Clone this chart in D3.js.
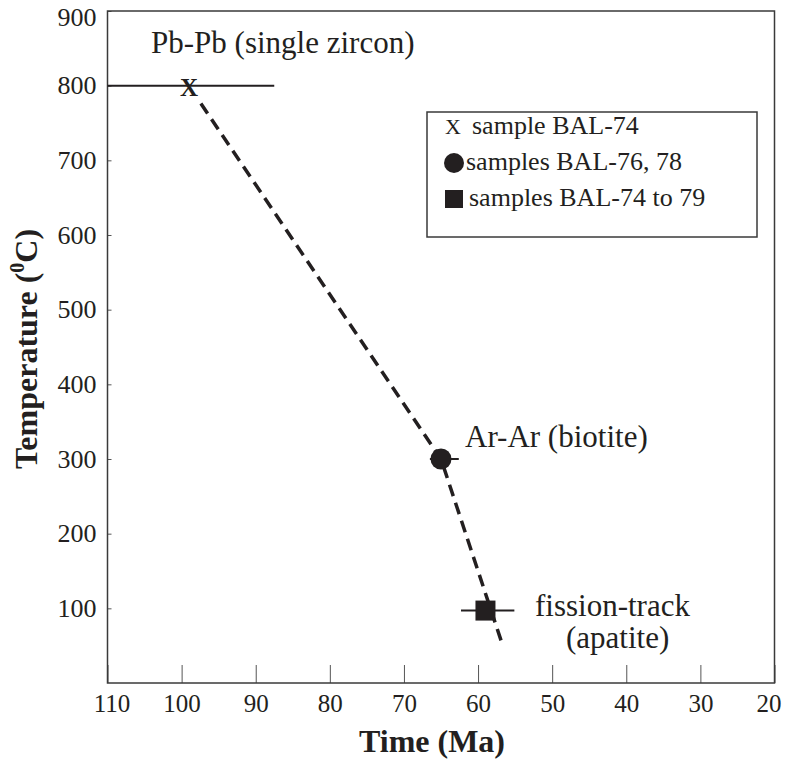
<!DOCTYPE html>
<html>
<head>
<meta charset="utf-8">
<script src="https://cdn.jsdelivr.net/npm/d3@7"></script>
<style>
body { margin: 0; background: #fff; }
svg text { font-family: "Liberation Serif", "Times New Roman", serif; fill: #231f20; }
</style>
</head>
<body>
<div id="chart"></div>
<script>
// values
const method_labels = [["Pb-Pb (single zircon)"], ["Ar-Ar (biotite)"], ["fission-track", "(apatite)"]];
const age_ma = [99, 65, 59];
const age_old = [110, 66.5, 62.3];
const age_young = [87.5, 62.6, 55.1];
const temp_c = [800, 300, 97];
const marker_types = ["x", "circle", "square"];

// dashed cooling path
const path_age = [97.4, 65, 56.8];
const path_temp = [776, 300, 54];

const legend_labels = ["sample BAL-74", "samples BAL-76, 78", "samples BAL-74 to 79"];

const x_ticks = [110, 100, 90, 80, 70, 60, 50, 40, 30, 20];
const y_ticks = [100, 200, 300, 400, 500, 600, 700, 800, 900];

let width = 788;
let height = 762;
let margin = { top: 11, right: 13.5, bottom: 79, left: 107.5 };
let ink = "#231f20";

let x = d3.scaleLinear().domain([110, 20]).range([margin.left, width - margin.right]);
let y = d3.scaleLinear().domain([0, 900]).range([height - margin.bottom, margin.top]);

let svg = d3.select("#chart")
	.append("svg")
	.attr("width", width)
	.attr("height", height);

// axes, ticks pointing inward
svg.append("g")
	.attr("transform", `translate(0,${y(0)})`)
	.call(d3.axisBottom(x).tickValues(x_ticks).tickSize(-18).tickPadding(11).tickFormat(d3.format("d")))
	.attr("font-size", 25)
	.call((g) => g.select(".domain").remove())
	.call((g) => g.selectAll(".tick line").attr("stroke", "#555"))
	// end labels sit a little inside the frame
	.call((g) => g.selectAll(".tick text").attr("dx", (d) => d == 110 ? 4 : d == 20 ? -6 : 0));

svg.append("g")
	.attr("transform", `translate(${x(110)},0)`)
	.call(d3.axisLeft(y).tickValues(y_ticks).tickSize(-4).tickPadding(11).tickFormat(d3.format("d")))
	.attr("font-size", 26)
	.call((g) => g.select(".domain").remove())
	.call((g) => g.selectAll(".tick line").attr("stroke", "#555"))
	.call((g) => g.selectAll(".tick text").filter((d) => d == 900).attr("dy", "0.55em"));

// frame
svg.append("rect")
	.attr("x", x(110))
	.attr("y", y(900))
	.attr("width", x(20) - x(110))
	.attr("height", y(0) - y(900))
	.attr("fill", "none")
	.attr("stroke", "#3a3a3a")
	.attr("stroke-width", 1.5);

// cooling path
let path_points = path_age.map((a, i) => [a, path_temp[i]]);
svg.append("path")
	.datum(path_points)
	.attr("d", d3.line().x((d) => x(d[0])).y((d) => y(d[1])))
	.attr("fill", "none")
	.attr("stroke", ink)
	.attr("stroke-width", 3.5)
	.attr("stroke-dasharray", "12,7");

// error bars
svg.selectAll(".err")
	.data(age_ma)
	.enter()
	.append("line")
	.attr("x1", (d, i) => x(age_old[i]))
	.attr("x2", (d, i) => x(age_young[i]))
	.attr("y1", (d, i) => y(temp_c[i]))
	.attr("y2", (d, i) => y(temp_c[i]))
	.attr("stroke", ink)
	.attr("stroke-width", 2);

// markers
age_ma.forEach((a, i) => {
	let cx = x(a), cy = y(temp_c[i]);
	if (marker_types[i] == "x") {
		svg.append("text")
			.attr("x", cx)
			.attr("y", cy + 10)
			.attr("text-anchor", "middle")
			.attr("font-weight", "bold")
			.attr("font-size", 25)
			.text("X");
	} else if (marker_types[i] == "circle") {
		svg.append("circle").attr("cx", cx).attr("cy", cy).attr("r", 10.5).attr("fill", ink);
	} else {
		svg.append("rect").attr("x", cx - 10).attr("y", cy - 10).attr("width", 20).attr("height", 20).attr("fill", ink);
	}
});

// method labels
let label_offsets = [[[-38, -32.5]], [[24, -12]], [[49.5, 5.5], [80.5, 37.5]]];
method_labels.forEach((lines, i) => {
	lines.forEach((t, j) => {
		svg.append("text")
			.attr("x", x(age_ma[i]) + label_offsets[i][j][0])
			.attr("y", y(temp_c[i]) + label_offsets[i][j][1])
			.attr("font-size", 31)
			.text(t);
	});
});

// legend
let legend = svg.append("g").attr("transform", "translate(427,112)");
legend.append("rect")
	.attr("width", 330)
	.attr("height", 125)
	.attr("fill", "#fff")
	.attr("stroke", "#3a3a3a")
	.attr("stroke-width", 1.5);

let row_y = [22, 58, 94];
legend.append("text").attr("x", 18).attr("y", row_y[0]).attr("font-size", 22).text("X");
legend.append("circle").attr("cx", 27).attr("cy", row_y[1] - 7).attr("r", 10).attr("fill", ink);
legend.append("rect").attr("x", 18).attr("y", row_y[2] - 16).attr("width", 18).attr("height", 18).attr("fill", ink);
let legend_x = [45, 39, 42];
legend_labels.forEach((t, i) => {
	legend.append("text")
		.attr("x", legend_x[i])
		.attr("y", row_y[i])
		.attr("font-size", 26)
		.text(t);
});

// axis titles
svg.append("text")
	.attr("x", 432)
	.attr("y", 752)
	.attr("text-anchor", "middle")
	.attr("font-weight", "bold")
	.attr("font-size", 32)
	.text("Time (Ma)");

let y_title = svg.append("text")
	.attr("transform", `translate(37,349) rotate(-90)`)
	.attr("text-anchor", "middle")
	.attr("font-weight", "bold")
	.attr("font-size", 32);
y_title.append("tspan").text("Temperature (");
y_title.append("tspan").attr("font-size", 20).attr("dy", -13).text("0");
y_title.append("tspan").attr("dy", 13).text("C)");
</script>
</body>
</html>
